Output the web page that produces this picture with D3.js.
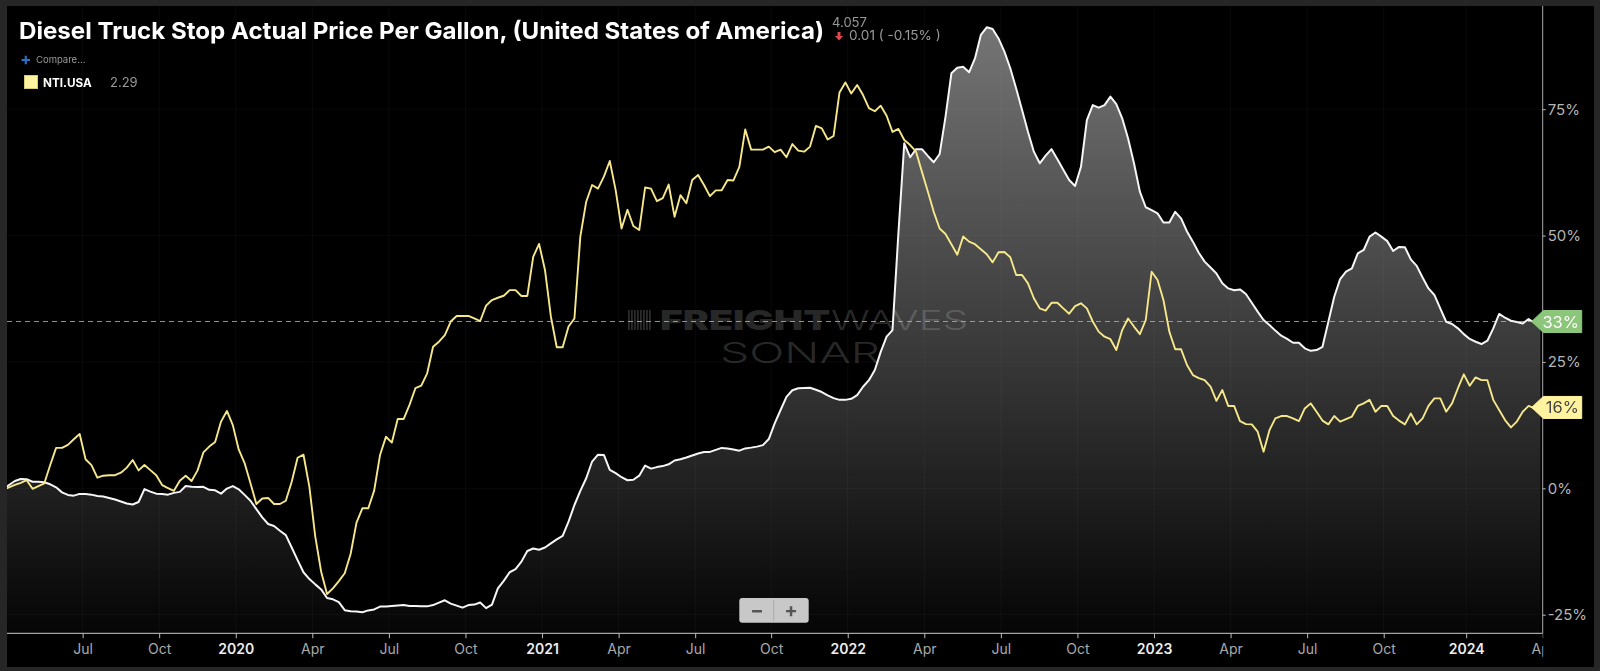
<!DOCTYPE html>
<html lang="en">
    <head>
        <meta charset="UTF-8" />
        <title>Diesel Truck Stop Actual Price Per Gallon</title>
        <style>
            body {
                margin: 0;
                padding: 0;
                background-color: #262626;
                overflow: hidden;
            }
            svg {
                display: block;
                filter: blur(0.35px);
            }
            .tick-label {
                font-family: Inter, sans-serif;
            }
        </style>
    </head>
    <body>
        <div id="chart"></div>
        <script src="https://d3js.org/d3.v7.min.js"></script>
        <script>
            // weekly readings, percent change since the first week
            const dieselPct = [
                -0.2, 0.65, 1.45, 1.85, 1.8, 1.3, 1.3, 1.2, 0.8, 0.2,
                -0.8, -1.3, -1.45, -1.1, -1.1, -1.25, -1.5, -1.6, -1.9, -2.2,
                -2.6, -3.0, -3.2, -2.7, -0.15, -0.65, -1.05, -1.1, -1.25, -0.9,
                -0.7, 0.45, 0.3, 0.25, 0.3, -0.3, -0.4, -1.05, -0.05, 0.45,
                -0.2, -1.3, -2.45, -4.1, -5.75, -7.05, -7.45, -8.4, -9.25, -11.7,
                -14.2, -16.6, -17.95, -19.0, -20.0, -21.7, -21.95, -22.5, -24.1, -24.3,
                -24.35, -24.5, -24.15, -23.95, -23.4, -23.4, -23.3, -23.2, -23.1, -23.3,
                -23.3, -23.35, -23.35, -23.1, -22.6, -22.15, -22.8, -23.2, -23.6, -23.1,
                -23.0, -22.6, -23.7, -23.0, -19.8, -18.3, -16.6, -16.0, -14.5, -12.4,
                -11.9, -12.15, -11.7, -10.9, -10.1, -9.4, -6.6, -3.3, -0.5, 2.0,
                5.3, 6.65, 6.6, 3.65, 3.0, 2.2, 1.6, 1.7, 2.5, 4.5,
                3.9, 4.2, 4.4, 4.75, 5.5, 5.75, 6.1, 6.5, 6.9, 7.2,
                7.2, 7.6, 8.0, 7.9, 7.7, 7.45, 7.9, 8.05, 8.25, 8.55,
                9.75, 12.85, 15.5, 18.1, 19.4, 19.8, 19.85, 19.9, 19.5, 19.05,
                18.4, 17.85, 17.5, 17.5, 17.7, 18.45, 20.1, 21.4, 23.4, 27.0,
                30.0, 31.3, 50.4, 68.25, 65.5, 67.1, 67.1, 65.75, 64.5, 66.1,
                73.5, 82.1, 83.2, 83.4, 82.3, 85.05, 89.7, 91.2, 90.85, 89.0,
                86.4, 83.1, 79.1, 74.85, 70.55, 66.6, 64.3, 65.8, 67.1, 65.1,
                63.0, 61.0, 59.8, 63.6, 72.85, 75.8, 75.3, 75.8, 77.5, 76.0,
                73.2, 69.2, 64.3, 58.7, 55.6, 55.05, 54.4, 52.6, 52.6, 54.7,
                53.4, 50.8, 48.8, 46.6, 44.85, 43.7, 42.5, 40.55, 39.55, 39.2,
                39.35, 38.45, 36.7, 34.95, 33.3, 32.3, 31.2, 30.2, 29.55, 28.8,
                28.8, 27.7, 27.2, 27.35, 28.0, 32.95, 37.9, 41.4, 42.85, 43.5,
                46.5, 47.15, 49.8, 50.6, 49.8, 48.9, 46.95, 47.75, 47.7, 45.3,
                44.0, 41.7, 39.55, 38.25, 35.6, 32.95, 32.5, 31.65, 30.5, 29.55,
                29.0, 28.55, 29.2, 31.65, 34.5, 33.75, 33.15, 32.9, 32.6, 33.5,
                32.75, 32.9
            ];
            const ntiPct = [
                -0.3, 0.2, 0.66, 1.1, 1.6, -0.1, 0.45, 1.0, 4.6, 8.0,
                8.0, 8.6, 9.7, 10.75, 5.75, 4.6, 2.1, 2.5, 2.6, 2.6,
                3.1, 4.1, 5.6, 3.55, 4.6, 3.6, 2.6, 0.65, 0.05, -0.5,
                1.5, 2.5, 1.45, 3.5, 7.1, 8.25, 9.15, 13.2, 15.3, 12.5,
                7.7, 5.0, 1.0, -3.1, -2.0, -1.9, -3.1, -3.1, -2.45, 1.3,
                6.05, 6.65, 0.3, -9.55, -16.5, -20.9, -19.8, -18.35, -16.8, -13.0,
                -6.8, -3.95, -3.95, -0.45, 6.6, 10.2, 9.05, 13.7, 13.7, 16.5,
                19.8, 20.3, 22.75, 28.0, 29.0, 30.3, 33.0, 34.1, 34.1, 34.1,
                33.6, 33.1, 36.15, 37.25, 37.7, 38.1, 39.2, 39.2, 38.05, 38.05,
                45.8, 48.35, 43.2, 34.0, 27.9, 27.9, 32.0, 33.6, 49.8, 56.7,
                60.0, 59.3, 61.65, 64.75, 59.0, 51.4, 55.1, 51.9, 51.1, 59.5,
                59.3, 56.8, 57.4, 60.1, 53.7, 58.0, 56.4, 61.0, 62.0, 60.0,
                57.8, 58.95, 58.95, 61.0, 60.9, 63.6, 71.0, 67.0, 67.0, 67.0,
                67.6, 66.5, 67.0, 65.5, 68.1, 66.8, 66.6, 67.6, 71.7, 71.2,
                69.0, 69.7, 78.3, 80.3, 78.1, 79.8, 77.8, 75.2, 74.6, 75.7,
                73.7, 70.5, 71.1, 68.9, 67.9, 66.6, 62.6, 58.7, 54.7, 51.4,
                50.3, 48.3, 46.2, 49.8, 48.8, 48.3, 47.3, 46.3, 44.7, 46.7,
                46.75, 45.7, 42.2, 42.2, 40.55, 37.6, 35.6, 35.15, 36.7, 36.7,
                35.6, 34.55, 36.05, 36.6, 35.6, 33.0, 31.0, 30.0, 29.5, 27.35,
                31.3, 33.6, 32.0, 30.5, 33.3, 42.85, 41.2, 37.25, 31.0, 27.5,
                27.5, 24.4, 22.4, 21.8, 21.4, 20.1, 17.3, 19.45, 16.3, 16.3,
                13.3, 12.7, 12.65, 11.2, 7.25, 11.5, 13.85, 14.3, 14.3, 13.85,
                13.3, 15.8, 16.8, 15.15, 13.4, 12.65, 14.3, 13.2, 13.7, 14.2,
                16.3, 16.8, 17.5, 15.15, 16.3, 16.3, 14.3, 13.4, 12.65, 14.8,
                12.65, 13.85, 16.3, 17.8, 17.8, 15.15, 16.8, 19.8, 22.55, 20.3,
                21.95, 21.4, 21.4, 17.5, 15.5, 13.5, 12.05, 13.2, 15.15, 16.3,
                15.8, 15.9
            ];
            const xTickLabels = ['Jul', 'Oct', '2020', 'Apr', 'Jul', 'Oct', '2021', 'Apr', 'Jul', 'Oct', '2022', 'Apr', 'Jul', 'Oct', '2023', 'Apr', 'Jul', 'Oct', '2024', 'Apr'];
            // week numbers the quarter ticks fall on
            const xTickWeeks = [13.5, 26.5, 39.5, 52.5, 65.5, 78.5, 91.5, 104.5, 117.5, 130.4, 143.4, 156.4, 169.4, 182.4, 195.4, 208.4, 221.4, 234.4, 248.4, 261.4];
            const yTicks = [-25, 0, 25, 50, 75];
            const dieselLast = 33;
            const ntiLast = 16;

            const width = 1600;
            const height = 671;
            const left = 7;
            const right = 1542.7;
            const bottom = 633.3;

            const svg = d3.select('#chart').append('svg').attr('width', width).attr('height', height);
            const defs = svg.append('defs');

            svg.append('rect').attr('x', left).attr('y', 6).attr('width', 1587).attr('height', 661).attr('fill', '#000');

            const x = d3.scaleLinear().domain([0, 260]).range([3.1, 1534.5]);
            const y = d3.scaleLinear().domain([-25, 75]).range([614.7, 109.2]);

            defs.append('clipPath').attr('id', 'plot-clip').append('rect').attr('x', left).attr('y', 6).attr('width', right - left).attr('height', bottom - 6);
            defs.append('clipPath').attr('id', 'axis-clip').append('rect').attr('x', left).attr('y', bottom).attr('width', right - left + 0.5).attr('height', 34);

            const gradient = defs
                .append('linearGradient')
                .attr('id', 'area-fill')
                .attr('gradientUnits', 'userSpaceOnUse')
                .attr('x1', 0)
                .attr('x2', 0)
                .attr('y1', 30)
                .attr('y2', bottom);
            gradient.append('stop').attr('offset', 0).attr('stop-color', '#fff').attr('stop-opacity', 0.455);
            gradient.append('stop').attr('offset', 1).attr('stop-color', '#fff').attr('stop-opacity', 0.02);

            const plot = svg.append('g').attr('clip-path', 'url(#plot-clip)');

            const area = d3
                .area()
                .x((d, i) => x(i))
                .y0(bottom)
                .y1((d) => y(d));
            const line = d3
                .line()
                .x((d, i) => x(i))
                .y((d) => y(d));

            plot.append('path').datum(dieselPct).attr('fill', 'url(#area-fill)').attr('d', area);

            // faint grid
            const grid = plot.append('g').attr('stroke', '#fff').attr('stroke-opacity', 0.035);
            grid.selectAll('.gx')
                .data(xTickWeeks)
                .enter()
                .append('line')
                .attr('x1', (d) => x(d))
                .attr('x2', (d) => x(d))
                .attr('y1', 6)
                .attr('y2', bottom);
            grid.selectAll('.gy')
                .data(yTicks)
                .enter()
                .append('line')
                .attr('x1', left)
                .attr('x2', right)
                .attr('y1', (d) => y(d))
                .attr('y2', (d) => y(d));

            // watermark
            const mark = plot.append('g').attr('fill', '#fff').attr('fill-opacity', 0.17).style('font-family', 'Inter, sans-serif');
            d3.range(8).forEach((k) => {
                mark.append('rect').attr('x', 628 + k * 3).attr('y', 310).attr('width', 1.8).attr('height', 20);
            });
            mark.append('text').attr('x', 660).attr('y', 330).attr('font-size', 27.5).attr('font-weight', 900).attr('textLength', 170).attr('lengthAdjust', 'spacingAndGlyphs').text('FREIGHT');
            mark.append('text').attr('x', 831).attr('y', 330).attr('font-size', 27.5).attr('font-weight', 300).attr('textLength', 137).attr('lengthAdjust', 'spacingAndGlyphs').text('WAVES');
            mark.append('text').attr('x', 720).attr('y', 363).attr('font-size', 29).attr('font-weight', 300).attr('textLength', 160).attr('lengthAdjust', 'spacingAndGlyphs').text('SONAR');

            plot.append('line')
                .attr('x1', left)
                .attr('x2', right)
                .attr('y1', y(dieselLast))
                .attr('y2', y(dieselLast))
                .attr('stroke', '#8fc27a')
                .attr('stroke-opacity', 0.85)
                .attr('stroke-dasharray', '5 4');

            plot.append('path').datum(dieselPct).attr('fill', 'none').attr('stroke', '#f6f6f6').attr('stroke-width', 2).attr('stroke-linejoin', 'round').attr('d', line);
            plot.append('path').datum(ntiPct).attr('fill', 'none').attr('stroke', '#f5e78a').attr('stroke-width', 1.9).attr('stroke-linejoin', 'round').attr('d', line);

            // x axis
            const xAxis = svg
                .append('g')
                .attr('clip-path', 'url(#axis-clip)')
                .append('g')
                .attr('transform', `translate(0, ${bottom})`)
                .call(
                    d3
                        .axisBottom(x)
                        .tickValues(xTickWeeks)
                        .tickFormat((d, i) => xTickLabels[i])
                        .tickSize(5)
                        .tickPadding(6)
                );
            xAxis.select('.domain').remove();
            xAxis.selectAll('.tick line').attr('stroke', '#bbb');
            xAxis
                .selectAll('.tick text')
                .attr('class', 'tick-label')
                .attr('font-size', 14)
                .attr('fill', (d, i) => (/^\d{4}$/.test(xTickLabels[i]) ? '#eee' : '#aaa'))
                .attr('font-weight', (d, i) => (/^\d{4}$/.test(xTickLabels[i]) ? 600 : 400));
            svg.append('line').attr('x1', left).attr('x2', right).attr('y1', bottom).attr('y2', bottom).attr('stroke', '#ccc').attr('stroke-width', 1);

            // y axis
            const yAxis = svg
                .append('g')
                .attr('transform', `translate(${right}, 0)`)
                .call(d3.axisRight(y).tickValues(yTicks).tickFormat((d) => d + '%').tickSize(3).tickPadding(2));
            yAxis.select('.domain').remove();
            yAxis.selectAll('.tick line').attr('stroke', '#bbb');
            yAxis.selectAll('.tick text').attr('class', 'tick-label').attr('font-size', 15).attr('fill', '#b5b5b5');
            svg.append('line').attr('x1', right).attr('x2', right).attr('y1', 6).attr('y2', bottom).attr('stroke', '#aaa').attr('stroke-width', 1);

            // last value flags
            function flag(value, fill, color) {
                const cy = y(value);
                const path = d3.path();
                path.moveTo(1531.7, cy);
                path.lineTo(1543.3, cy - 11);
                path.lineTo(1581.7, cy - 11);
                path.lineTo(1581.7, cy + 11);
                path.lineTo(1543.3, cy + 11);
                path.closePath();
                svg.append('path').attr('d', path.toString()).attr('fill', fill).attr('stroke', fill).attr('stroke-linejoin', 'round');
                svg.append('text')
                    .attr('class', 'tick-label')
                    .attr('x', 1579)
                    .attr('y', cy + 6)
                    .attr('text-anchor', 'end')
                    .attr('font-size', 16.5)
                    .attr('fill', color)
                    .text(value + '%');
            }
            flag(dieselLast, '#8cc67a', '#fff');
            flag(ntiLast, '#fff3a0', '#444');

            // header
            const head = svg.append('g').style('font-family', 'Inter, sans-serif');
            head.append('text').attr('x', 19).attr('y', 39).attr('font-size', 23.5).attr('font-weight', 700).attr('fill', '#fff').attr('textLength', 805).attr('lengthAdjust', 'spacingAndGlyphs').text('Diesel Truck Stop Actual Price Per Gallon, (United States of America)');
            head.append('text').attr('x', 832).attr('y', 27).attr('font-size', 13).attr('fill', '#999').text('4.057');
            head.append('path').attr('d', 'M837.5 32h3v4h2.5l-4 4.5-4-4.5h2.5z').attr('fill', '#e0474c');
            head.append('text').attr('x', 849).attr('y', 40).attr('font-size', 13.6).attr('fill', '#999').text('0.01 ( -0.15% )');

            head.append('text').attr('x', 20).attr('y', 65).attr('font-size', 17).attr('font-weight', 700).attr('fill', '#2a72c8').text('+');
            head.append('text').attr('x', 36).attr('y', 63).attr('font-size', 9.5).attr('fill', '#999').text('Compare...');
            head.append('rect').attr('x', 24.5).attr('y', 75.5).attr('width', 13).attr('height', 13).attr('fill', '#fff3a0').attr('stroke', '#d8c97a');
            head.append('text').attr('x', 43).attr('y', 87).attr('font-size', 11.7).attr('font-weight', 700).attr('fill', '#fff').text('NTI.USA');
            head.append('text').attr('x', 110).attr('y', 87).attr('font-size', 13).attr('fill', '#999').text('2.29');

            // zoom buttons
            const zoomBox = svg.append('g').style('font-family', 'Inter, sans-serif');
            zoomBox.append('rect').attr('x', 739.3).attr('y', 598).attr('width', 69.4).attr('height', 24.7).attr('rx', 3).attr('fill', '#c8c8c8');
            zoomBox.append('line').attr('x1', 773.7).attr('x2', 773.7).attr('y1', 600).attr('y2', 621).attr('stroke', '#aaa');
            zoomBox.append('text').attr('x', 757).attr('y', 617).attr('text-anchor', 'middle').attr('font-size', 20).attr('font-weight', 700).attr('fill', '#555').text('−');
            zoomBox.append('text').attr('x', 791).attr('y', 617).attr('text-anchor', 'middle').attr('font-size', 20).attr('font-weight', 700).attr('fill', '#555').text('+');
        </script>
    </body>
</html>
